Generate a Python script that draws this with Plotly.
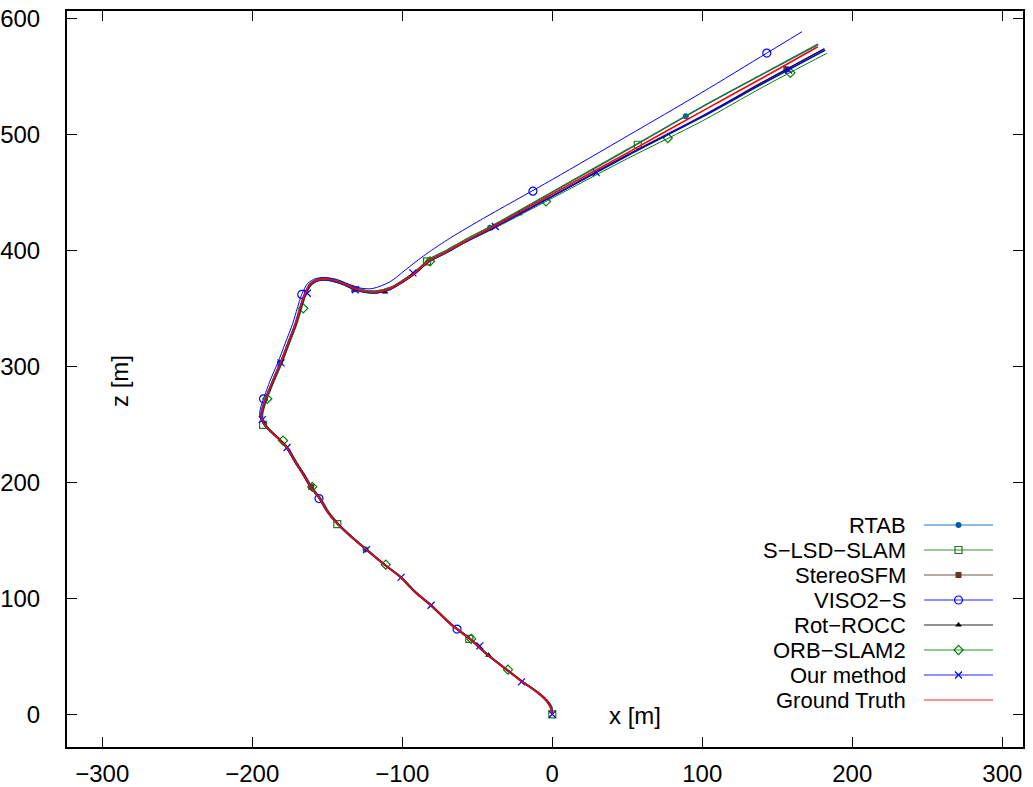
import plotly.graph_objects as go

# ---------------------------------------------------------------------------
# Trajectories in the x-z plane [m]
# ---------------------------------------------------------------------------
rtab_x = [0, -1.5, -4.5, -10.5, -20.5, -30.5, -43.5, -55.5, -68.5, -81.5, -92.5, -101.5, -112.5,
          -124.5, -134.5, -143.5, -150.5, -155.5, -161.5, -166.5, -171.5, -177.5, -182.5, -187.5,
          -192.5, -194.5, -193.5, -191.5, -186.5, -181.5, -176.5, -171.5, -168.5, -165.5, -161.5,
          -156, -150, -141, -132, -125, -117, -108, -100, -92, -82, -70, -59, -37, 0, 50, 100, 140, 177.5]
rtab_z = [0, 6, 12, 19, 28, 38, 51, 65, 78, 94, 106, 118, 129, 142, 153, 164, 175, 186, 196, 207,
          217, 230, 237, 243, 250, 257, 264, 272, 288, 303, 320, 337, 350, 362, 371.5, 375.5, 376,
          373, 368, 365.5, 365, 368, 374, 381, 392, 400, 408.5, 423, 450, 486.5, 523.5, 551.5, 577.5]

slsd_x = [0, -1.3, -4.3, -10.3, -20.3, -30.3, -43.3, -55.3, -68.3, -81.3, -92.3, -101.3, -112.3,
          -124.3, -134.3, -143.3, -150.3, -155.3, -161.3, -166.3, -171.3, -177.3, -182.3, -187.3,
          -192.3, -194.3, -193.3, -191.3, -186.3, -181.3, -176.3, -171.3, -168.3, -165.3, -161.3,
          -156, -150, -141, -132, -125, -117, -108, -100, -92, -82, -70, -59, -37, 0, 50, 100, 140, 177]
slsd_z = [0, 6, 12, 19, 28, 38, 51, 65, 78, 94, 106, 118, 129, 142, 153, 164, 175, 186, 196, 207,
          217, 230, 237, 243, 250, 257, 264, 272, 288, 303, 320, 337, 350, 362, 371.5, 375.5, 376,
          373, 368, 365.5, 365, 368, 374, 381, 392.5, 400.5, 408.5, 423.5, 450.5, 487, 524, 552, 577.8]

stereo_x = [0, -0.7, -3.7, -9.7, -19.7, -29.7, -42.7, -54.7, -67.7, -80.7, -91.7, -100.7, -111.7,
            -123.7, -133.7, -142.7, -149.7, -154.7, -160.7, -165.7, -170.7, -176.7, -181.7, -186.7,
            -191.7, -193.7, -192.7, -190.7, -185.7, -180.7, -175.7, -170.7, -167.7, -164.7, -160.7,
            -156, -150, -141, -132, -125, -117, -108, -100, -92, -82, -70, -59, -37, 0, 50, 100, 140, 181.5]
stereo_z = [0, 6, 12, 19, 28, 38, 51, 65, 78, 94, 106, 118, 129, 142, 153, 164, 175, 186, 196, 207,
            217, 230, 237, 243, 250, 257, 264, 272, 288, 303, 320, 337, 350, 362, 370.5, 374, 374.5,
            371.5, 366.5, 364, 363.5, 366.5, 372.5, 379.5, 390.5, 398.5, 406.5, 421.5, 447, 482.5,
            516, 545, 574]

viso_x = [0, -1, -4, -10, -20, -30, -43, -55, -68, -81, -92, -101, -112, -124, -134, -143, -150,
          -155.5, -161.5, -166.5, -171.5, -177.5, -182.5, -187.5, -192.5, -195, -194.5, -192.5,
          -188, -183, -178, -173, -170, -167, -163, -158, -152, -144, -136, -128, -120, -108, -98,
          -86, -70, -48, 0, 50, 99, 143, 166.5]
viso_z = [0, 6, 12, 19, 28, 38, 51, 65, 78, 94, 106, 118, 129, 142, 153, 164, 175, 186, 196, 207,
          217, 230, 237, 243, 250, 257, 264, 272, 288, 303, 320, 337, 350, 362, 371.5, 375.5, 376.5,
          375, 371, 367.5, 367, 373, 383, 395, 409, 426, 461, 498.5, 535.5, 570, 588.5]

rot_x = [0, -0.5, -3.5, -9.5, -19.5, -29.5, -42.5, -54.5, -67.5, -80.5, -91.5, -100.5, -111.5,
         -123.5, -133.5, -142.5, -149.5, -154.5, -160.5, -165.5, -170.5, -176.5, -181.5, -186.5,
         -191.5, -193.5, -192.5, -190.5, -185.5, -180.5, -175.5, -170.5, -167.5, -164.5, -160.5,
         -156, -150, -141, -132, -125, -117, -108, -100, -92, -82, -70, -59, -37, 0, 50, 100, 140, 181]
rot_z = [0, 6, 12, 19, 28, 38, 51, 65, 78, 94, 106, 118, 129, 142, 153, 164, 175, 186, 196, 207,
         217, 230, 237, 243, 250, 257, 264, 272, 288, 303, 320, 337, 350, 362, 370.5, 374, 374.5,
         371.5, 366.5, 364, 363.5, 366.5, 372.5, 379.5, 390.5, 398.5, 406.5, 421, 446.5, 482,
         515.5, 544.5, 573.5]

orb_x = [0, 0, -3, -9, -19, -29, -42, -54, -67, -80, -91, -100, -111, -123, -133, -142, -149,
         -154, -160, -165, -170, -176, -181, -186, -191, -193, -192, -190, -185, -180, -175, -170,
         -167, -164, -160.5, -156, -150, -141, -132, -125, -117, -108, -100, -92, -82, -70, -59, -37,
         0, 50, 100, 140, 183]
orb_z = [0, 6, 12, 19, 28, 38, 51, 65, 78, 94, 106, 118, 129, 142, 153, 164, 175, 186, 196, 207,
         217, 230, 237, 243, 250, 257, 264, 272, 288, 303, 320, 337, 350, 362, 370, 373.5, 374,
         371, 366, 363.5, 363, 366, 372, 379, 390, 398, 406, 420, 445, 479, 511.5, 540.5, 569.8]

ours_x = [0, -0.8, -3.8, -9.8, -19.8, -29.8, -42.8, -54.8, -67.8, -80.8, -91.8, -100.8, -111.8,
          -123.8, -133.8, -142.8, -149.8, -154.8, -160.8, -165.8, -170.8, -176.8, -181.8, -186.8,
          -191.8, -193.8, -192.8, -190.8, -185.8, -180.8, -175.8, -170.8, -167.8, -164.8, -160.8,
          -156, -150, -141, -132, -125, -117, -108, -100, -92, -82, -70, -59, -37, 0, 50, 100, 140, 182]
ours_z = [0, 6, 12, 19, 28, 38, 51, 65, 78, 94, 106, 118, 129, 142, 153, 164, 175, 186, 196, 207,
          217, 230, 237, 243, 250, 257, 264, 272, 288, 303, 320, 337, 350, 362, 370.5, 374, 374.5,
          371.5, 366.5, 364, 363.5, 366.5, 372.5, 379.5, 390.5, 398.5, 406.5, 421, 446.5, 481.5,
          515, 543.5, 572.7]

gt_x = [0, -1, -4, -10, -20, -30, -43, -55, -68, -81, -92, -101, -112, -124, -134, -143, -150,
        -155, -161, -166, -171, -177, -182, -187, -192, -194, -193, -191, -186, -181, -176, -171,
        -168, -165, -161, -156, -150, -141, -132, -125, -117, -108, -100, -92, -82, -70, -59, -37,
        0, 50, 100, 140, 177]
gt_z = [0, 6, 12, 19, 28, 38, 51, 65, 78, 94, 106, 118, 129, 142, 153, 164, 175, 186, 196, 207,
        217, 230, 237, 243, 250, 257, 264, 272, 288, 303, 320, 337, 350, 362, 371, 374.5, 375,
        372, 367, 364.5, 364, 367, 373, 380, 391, 399, 407, 422, 448.5, 484, 520, 548.5, 575.5]

# Sampled poses drawn with point symbols
rtab_mx = [-124.5, -181.5, -41.5, 89]
rtab_mz = [142, 303, 419.5, 515.5]
slsd_mx = [0, -55.3, -143.3, -192.8, -83.5, 57]
slsd_mz = [0, 65, 164, 249.5, 390.5, 491]
stereo_mx = [-160.7, -132, 156]
stereo_mz = [196, 366.5, 556]
viso_mx = [-63.5, -155.5, -192.5, -167, -12.9, 143]
viso_mz = [73.5, 186, 272, 362, 451, 570]
rot_mx = [-42.5, -111.5, -22]
rot_mz = [51, 364, 431.5]
orb_mx = [-29.5, -54, -111, -160, -179.5, -190, -166, -81.5, -4.2, 77, 158.7]
orb_mz = [38.5, 65, 129, 196, 236, 272, 350, 390.5, 442.2, 496.8, 553]
ours_mx = [0, -20.5, -48.3, -80.8, -100.8, -123.8, -176.8, -193.3, -180.8, -163.3, -131.3, -92.9, -38, 29.3, 157.5]
ours_mz = [0, 28, 59, 94, 118, 142, 230, 254, 303, 363, 366, 380.5, 420.5, 467, 555.4]

# Axis ticks
x_ticks = [-300, -200, -100, 0, 100, 200, 300]
y_ticks = [0, 100, 200, 300, 400, 500, 600]

series = [
    dict(name="RTAB", x=rtab_x, z=rtab_z, mx=rtab_mx, mz=rtab_mz,
         color="#0060ad", width=1.2, symbol="circle", size=6),
    dict(name="S\u2212LSD\u2212SLAM", x=slsd_x, z=slsd_z, mx=slsd_mx, mz=slsd_mz,
         color="#1f7a1f", width=1.2, symbol="square-open", size=7),
    dict(name="StereoSFM", x=stereo_x, z=stereo_z, mx=stereo_mx, mz=stereo_mz,
         color="#5e3a2c", width=1.2, symbol="square", size=6),
    dict(name="VISO2\u2212S", x=viso_x, z=viso_z, mx=viso_mx, mz=viso_mz,
         color="#0000ff", width=1.0, symbol="circle-open", size=8),
    dict(name="Rot\u2212ROCC", x=rot_x, z=rot_z, mx=rot_mx, mz=rot_mz,
         color="#000000", width=1.0, symbol="triangle-up", size=6),
    dict(name="ORB\u2212SLAM2", x=orb_x, z=orb_z, mx=orb_mx, mz=orb_mz,
         color="#008000", width=1.0, symbol="diamond-open", size=7),
    dict(name="Our method", x=ours_x, z=ours_z, mx=ours_mx, mz=ours_mz,
         color="#0000ff", width=1.6, symbol="x-thin-open", size=7),
    dict(name="Ground Truth", x=gt_x, z=gt_z, mx=None, mz=None,
         color="#ff0000", width=1.6, symbol=None, size=0),
]

FONT = "Liberation Sans, Arial, sans-serif"
FS = 24        # tick labels and axis titles
FS_KEY = 22    # key entries
W, H = 1033, 787
ML, MR, MT, MB = 67, 10, 11, 40

fig = go.Figure()


def marker_style(s):
    open_sym = s["symbol"].endswith("open")
    return dict(symbol=s["symbol"], size=s["size"], color=s["color"],
                line=dict(color=s["color"], width=1.2 if open_sym else 0))


for s in series:
    fig.add_trace(go.Scatter(
        x=s["x"], y=s["z"], mode="lines",
        line=dict(color=s["color"], width=s["width"], shape="spline", smoothing=0.8),
        showlegend=False, hoverinfo="skip"))
    if s["mx"] is not None:
        fig.add_trace(go.Scatter(
            x=s["mx"], y=s["mz"], mode="markers", marker=marker_style(s),
            showlegend=False, hoverinfo="skip"))

# Key: text right-aligned with a line sample to its right (pixel-space overlay axes)
key_top, key_step = 525, 25
key_text_right, key_line_l, key_line_r = 907, 924, 993
annotations = []
for i, s in enumerate(series):
    yk = key_top + i * key_step
    fig.add_trace(go.Scatter(
        x=[key_line_l, key_line_r], y=[yk, yk], mode="lines", xaxis="x2", yaxis="y2",
        line=dict(color=s["color"], width=1.2), showlegend=False, hoverinfo="skip", opacity=0.85))
    if s["symbol"] is not None:
        fig.add_trace(go.Scatter(
            x=[(key_line_l + key_line_r) / 2], y=[yk], mode="markers", xaxis="x2", yaxis="y2",
            marker=marker_style(s), showlegend=False, hoverinfo="skip"))
    annotations.append(dict(
        x=key_text_right, y=yk, xref="x2", yref="y2", text=s["name"], showarrow=False,
        xanchor="right", yanchor="middle", borderpad=0,
        font=dict(family=FONT, size=FS_KEY, color="black")))

annotations.append(dict(x=635, y=715, xref="x2", yref="y2", text="x [m]", showarrow=False,
                        xanchor="center", yanchor="middle",
                        font=dict(family=FONT, size=FS, color="black")))
annotations.append(dict(x=119, y=381, xref="x2", yref="y2", text="z [m]", showarrow=False,
                        textangle=-90, xanchor="center", yanchor="middle",
                        font=dict(family=FONT, size=FS, color="black")))

axis_common = dict(
    showgrid=False, zeroline=False, showline=True, linecolor="black", linewidth=2,
    mirror="allticks", ticks="inside", ticklen=10, tickwidth=1, tickcolor="black",
    tickfont=dict(family=FONT, size=FS, color="black"), automargin=False,
)

fig.update_layout(
    width=W, height=H,
    margin=dict(l=ML, r=MR, t=MT, b=MB, autoexpand=False),
    paper_bgcolor="white", plot_bgcolor="white",
    showlegend=False,
    xaxis=dict(range=[-323.5, 313.8], tickvals=x_ticks, ticklabelstandoff=4, **axis_common),
    yaxis=dict(range=[-28.2, 606.3], tickvals=y_ticks, ticklabelstandoff=20, **axis_common),
    xaxis2=dict(overlaying="x", range=[ML, W - MR], visible=False, fixedrange=True),
    yaxis2=dict(overlaying="y", range=[H - MB, MT], visible=False, fixedrange=True),
    annotations=annotations,
)

fig.write_html("out.html")
